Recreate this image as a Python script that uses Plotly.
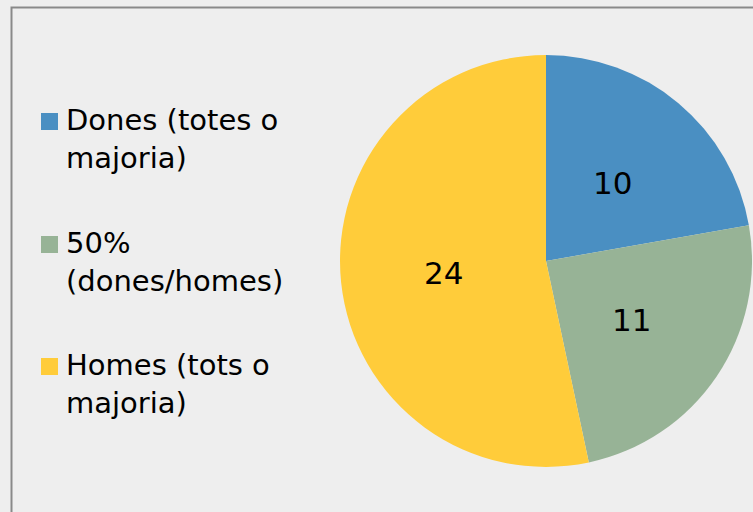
import math
import plotly.graph_objects as go

categories = ["Dones (totes o majoria)", "50% (dones/homes)", "Homes (tots o majoria)"]
legend_text = ["Dones (totes o<br>majoria)", "50%<br>(dones/homes)", "Homes (tots o<br>majoria)"]
values = [10, 11, 24]
colors = ["#4A8FC2", "#97B396", "#FFCC3A"]

W, H = 753, 512
FONT = "DejaVu Sans"

# pie geometry (pixels)
px0, px1 = 340, 752
py0, py1 = 45, 457  # from bottom
R = (px1 - px0) / 2
cx = (px0 + px1) / 2
cy = (py0 + py1) / 2

fig = go.Figure(go.Pie(
    labels=categories, values=values, sort=False, direction="clockwise", rotation=0,
    marker=dict(colors=colors, line=dict(width=0)),
    textinfo="none",
    domain=dict(x=[px0 / W, px1 / W], y=[py0 / H, py1 / H]),
    hoverinfo="label+value", showlegend=False,
))

annotations = []
shapes = [dict(type="rect", xref="paper", yref="paper", x0=11.5 / W, x1=1.02, y0=-0.02, y1=1 - 7.5 / H,
               line=dict(color="#898989", width=2), fillcolor="rgba(0,0,0,0)", layer="below")]

# value labels inside slices, placed at half radius on the mid-angle
total = sum(values)
cum = 0
for v in values:
    theta = 2 * math.pi * (cum + v / 2) / total
    cum += v
    x = cx + 0.5 * R * math.sin(theta)
    y = cy + 0.5 * R * math.cos(theta) - 1
    annotations.append(dict(x=x / W, y=y / H, xref="paper", yref="paper", text=str(v), showarrow=False,
                            xanchor="center", yanchor="middle",
                            font=dict(size=31, family=FONT, color="#000000")))

# custom legend
sq_top = [113, 236, 358]  # top of legend squares (px from top)
for i, (t, c) in enumerate(zip(legend_text, colors)):
    top = sq_top[i]
    shapes.append(dict(type="rect", xref="paper", yref="paper",
                       x0=41 / W, x1=58 / W, y0=1 - (top + 17) / H, y1=1 - top / H,
                       line=dict(width=0), fillcolor=c))
    annotations.append(dict(x=64 / W, y=1 - (top - 12) / H, xref="paper", yref="paper", text=t,
                            showarrow=False, xanchor="left", yanchor="top", align="left",
                            font=dict(size=29, family=FONT, color="#000000")))

fig.update_layout(
    width=W, height=H, margin=dict(l=0, r=0, t=0, b=0),
    paper_bgcolor="#EEEEEE", plot_bgcolor="#EEEEEE",
    font=dict(family=FONT, size=28, color="#000000"),
    showlegend=False,
    shapes=shapes, annotations=annotations,
)
fig.write_html("out.html", config={"displayModeBar": False},
               post_script="document.body.style.margin='0';")
